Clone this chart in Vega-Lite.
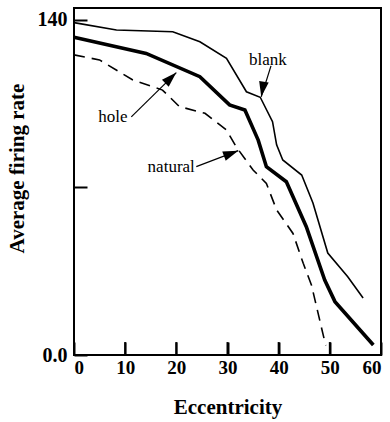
{
  "$schema": "https://vega.github.io/schema/vega-lite/v6.json",
  "width": 307,
  "height": 347,
  "autosize": {"type": "none"},
  "padding": {"left": 74, "top": 8, "right": 9, "bottom": 67},
  "background": "white",
  "config": {
    "font": "Liberation Serif",
    "view": {"stroke": "black", "strokeWidth": 2},
    "axis": {
      "domain": false,
      "grid": false,
      "tickColor": "black",
      "tickWidth": 2,
      "tickSize": -13,
      "labelColor": "black",
      "labelFont": "Liberation Serif",
      "labelFontWeight": "bold",
      "titleFont": "Liberation Serif",
      "titleFontWeight": "bold",
      "titleColor": "black",
      "titleFontSize": 21
    },
    "axisX": {"labelFontSize": 19, "labelPadding": 16, "titlePadding": 19},
    "axisY": {"labelFontSize": 20, "labelPadding": 20, "titlePadding": 10}
  },
  "datasets": {
    "curves": [
      {"series": "blank", "ecc": 0, "rate": 138.9},
      {"series": "blank", "ecc": 8.3, "rate": 135.8},
      {"series": "blank", "ecc": 19.3, "rate": 135.1},
      {"series": "blank", "ecc": 24.6, "rate": 130.9},
      {"series": "blank", "ecc": 29.8, "rate": 124.0},
      {"series": "blank", "ecc": 33.7, "rate": 110.0},
      {"series": "blank", "ecc": 36.4, "rate": 107.7},
      {"series": "blank", "ecc": 38.8, "rate": 97.5},
      {"series": "blank", "ecc": 39.6, "rate": 87.8},
      {"series": "blank", "ecc": 40.8, "rate": 81.5},
      {"series": "blank", "ecc": 44.5, "rate": 75.2},
      {"series": "blank", "ecc": 46.7, "rate": 63.5},
      {"series": "blank", "ecc": 49.6, "rate": 42.6},
      {"series": "blank", "ecc": 53.5, "rate": 32.7},
      {"series": "blank", "ecc": 56.5, "rate": 23.8},
      {"series": "hole", "ecc": 0, "rate": 132.8},
      {"series": "hole", "ecc": 14.1, "rate": 126.0},
      {"series": "hole", "ecc": 24.6, "rate": 116.3},
      {"series": "hole", "ecc": 30.4, "rate": 104.5},
      {"series": "hole", "ecc": 33.4, "rate": 102.4},
      {"series": "hole", "ecc": 36.0, "rate": 89.8},
      {"series": "hole", "ecc": 37.6, "rate": 78.7},
      {"series": "hole", "ecc": 41.5, "rate": 72.4},
      {"series": "hole", "ecc": 45.4, "rate": 53.6},
      {"series": "hole", "ecc": 49.0, "rate": 31.3},
      {"series": "hole", "ecc": 51.0, "rate": 22.3},
      {"series": "hole", "ecc": 58.5, "rate": 4.2},
      {"series": "natural", "ecc": 0, "rate": 125.4},
      {"series": "natural", "ecc": 5.0, "rate": 123.3},
      {"series": "natural", "ecc": 11.5, "rate": 114.9},
      {"series": "natural", "ecc": 17.3, "rate": 110.7},
      {"series": "natural", "ecc": 20.6, "rate": 103.8},
      {"series": "natural", "ecc": 25.6, "rate": 101.0},
      {"series": "natural", "ecc": 29.8, "rate": 94.0},
      {"series": "natural", "ecc": 31.7, "rate": 87.0},
      {"series": "natural", "ecc": 35.0, "rate": 77.3},
      {"series": "natural", "ecc": 37.6, "rate": 71.7},
      {"series": "natural", "ecc": 39.6, "rate": 60.6},
      {"series": "natural", "ecc": 42.8, "rate": 50.8},
      {"series": "natural", "ecc": 44.8, "rate": 38.3},
      {"series": "natural", "ecc": 46.4, "rate": 29.3},
      {"series": "natural", "ecc": 48.7, "rate": 8.4},
      {"series": "natural", "ecc": 49.2, "rate": 4.0}
    ],
    "callouts": [
      {"label": "blank", "tx": 37.9, "ty": 123.3, "x0": 38.5, "y0": 120.8, "x1": 36.6, "y1": 107.9},
      {"label": "hole", "tx": 7.6, "ty": 99.4, "x0": 11.2, "y0": 99.5, "x1": 20.0, "y1": 118.0},
      {"label": "natural", "tx": 19.0, "ty": 78.4, "x0": 23.9, "y0": 78.7, "x1": 32.1, "y1": 85.4}
    ],
    "xticks": [
      {"ecc": 10}, {"ecc": 20}, {"ecc": 30}, {"ecc": 40}, {"ecc": 50}
    ]
  },
  "layer": [
    {
      "data": {"name": "curves"},
      "transform": [{"filter": "datum.series == 'blank'"}],
      "mark": {"type": "line", "color": "black", "strokeWidth": 1.6},
      "encoding": {
        "x": {
          "field": "ecc", "type": "quantitative",
          "scale": {"domain": [0, 60], "nice": false, "zero": false},
          "axis": {"title": "Eccentricity", "values": [0, 10, 20, 30, 40, 50, 60]}
        },
        "y": {
          "field": "rate", "type": "quantitative",
          "scale": {"domain": [0, 145], "nice": false},
          "axis": {
            "title": "Average firing rate",
            "titleY": 160,
            "values": [0, 70, 140],
            "labelExpr": "datum.value == 0 ? '0.0' : (datum.value == 140 ? '140' : '')"
          }
        }
      }
    },
    {
      "data": {"name": "curves"},
      "transform": [{"filter": "datum.series == 'hole'"}],
      "mark": {"type": "line", "color": "black", "strokeWidth": 3.6},
      "encoding": {
        "x": {"field": "ecc", "type": "quantitative"},
        "y": {"field": "rate", "type": "quantitative"}
      }
    },
    {
      "data": {"name": "curves"},
      "transform": [{"filter": "datum.series == 'natural'"}],
      "mark": {"type": "line", "color": "black", "strokeWidth": 1.6, "strokeDash": [11, 7]},
      "encoding": {
        "x": {"field": "ecc", "type": "quantitative"},
        "y": {"field": "rate", "type": "quantitative"}
      }
    },
    {
      "data": {"name": "xticks"},
      "mark": {"type": "rule", "color": "black", "strokeWidth": 2},
      "encoding": {
        "x": {"field": "ecc", "type": "quantitative"},
        "y": {"datum": 0},
        "y2": {"datum": 5.4}
      }
    },
    {
      "data": {"name": "callouts"},
      "mark": {"type": "rule", "color": "black", "strokeWidth": 1.2},
      "encoding": {
        "x": {"field": "x0", "type": "quantitative"},
        "y": {"field": "y0", "type": "quantitative"},
        "x2": {"field": "x1"},
        "y2": {"field": "y1"}
      }
    },
    {
      "data": {"name": "callouts"},
      "transform": [{"filter": "datum.label == 'blank'"}],
      "mark": {"type": "point", "shape": "M0,0L0.38,1.2L-0.38,1.2Z", "filled": true, "color": "black", "opacity": 1, "size": 650, "angle": 190},
      "encoding": {
        "x": {"field": "x1", "type": "quantitative"},
        "y": {"field": "y1", "type": "quantitative"}
      }
    },
    {
      "data": {"name": "callouts"},
      "transform": [{"filter": "datum.label == 'hole'"}],
      "mark": {"type": "point", "shape": "M0,0L0.38,1.2L-0.38,1.2Z", "filled": true, "color": "black", "opacity": 1, "size": 650, "angle": 46},
      "encoding": {
        "x": {"field": "x1", "type": "quantitative"},
        "y": {"field": "y1", "type": "quantitative"}
      }
    },
    {
      "data": {"name": "callouts"},
      "transform": [{"filter": "datum.label == 'natural'"}],
      "mark": {"type": "point", "shape": "M0,0L0.38,1.2L-0.38,1.2Z", "filled": true, "color": "black", "opacity": 1, "size": 650, "angle": 69},
      "encoding": {
        "x": {"field": "x1", "type": "quantitative"},
        "y": {"field": "y1", "type": "quantitative"}
      }
    },
    {
      "data": {"name": "callouts"},
      "mark": {"type": "text", "font": "Liberation Serif", "fontSize": 17, "color": "black", "baseline": "middle", "align": "center"},
      "encoding": {
        "x": {"field": "tx", "type": "quantitative"},
        "y": {"field": "ty", "type": "quantitative"},
        "text": {"field": "label"}
      }
    }
  ]
}
